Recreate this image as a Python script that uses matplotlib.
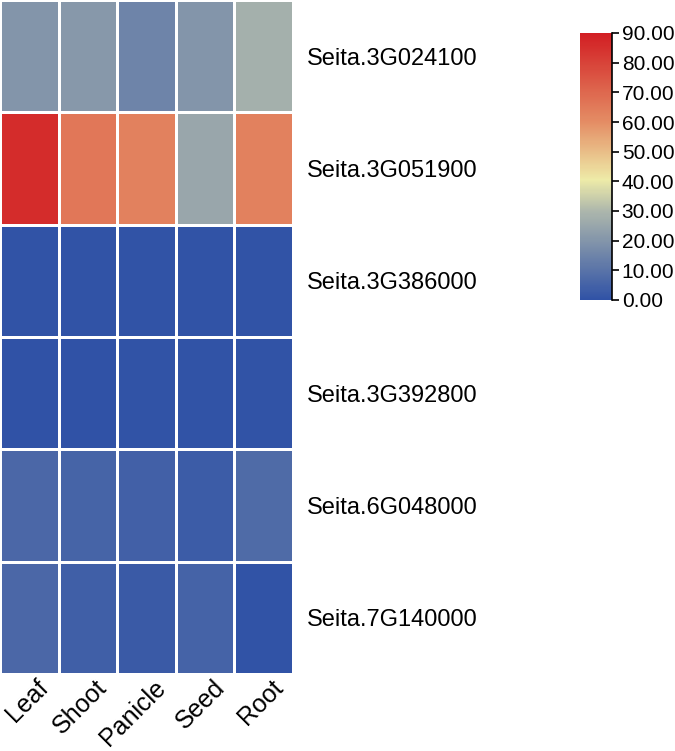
import numpy as np
import matplotlib
matplotlib.use("Agg")
import matplotlib.pyplot as plt
from matplotlib.colors import LinearSegmentedColormap
from matplotlib.transforms import ScaledTranslation

plt.rcParams['font.family'] = ['Liberation Sans', 'DejaVu Sans']

# data
genes = ["Seita.3G024100", "Seita.3G051900", "Seita.3G386000",
         "Seita.3G392800", "Seita.6G048000", "Seita.7G140000"]
tissues = ["Leaf", "Shoot", "Panicle", "Seed", "Root"]
values = np.array([
    [20.0, 21.0, 15.0, 20.0, 28.0],
    [86.0, 66.0, 63.0, 25.0, 63.0],
    [0.5, 0.4, 0.5, 0.4, 0.4],
    [0.3, 0.3, 0.4, 0.5, 0.4],
    [6.5, 5.5, 4.5, 3.0, 7.5],
    [6.5, 4.0, 2.5, 5.0, 0.5],
])
vmin, vmax = 0, 90
cbar_ticks = [0, 10, 20, 30, 40, 50, 60, 70, 80, 90]

cmap = LinearSegmentedColormap.from_list("tb", [
    (0.0, (48/255, 82/255, 166/255)),
    (0.33, (172/255, 182/255, 172/255)),
    (0.45, (238/255, 235/255, 168/255)),
    (0.67, (228/255, 140/255, 100/255)),
    (1.0, (210/255, 30/255, 35/255)),
])

W, H = 675, 751
fig = plt.figure(figsize=(W / 100, H / 100), dpi=100)

ax = fig.add_axes([0, 1 - 674 / H, 293 / W, 674 / H])
mesh = ax.pcolormesh(values, cmap=cmap, vmin=vmin, vmax=vmax,
                     edgecolor="white", linewidth=1.0)
ax.set_xlim(0, len(tissues))
ax.set_ylim(len(genes), 0)
ax.set_xticks(np.arange(len(tissues)) + 0.5)
ax.set_xticklabels(tissues, rotation=45, ha="right", rotation_mode="anchor",
                   fontsize=18)
ax.set_yticks(np.arange(len(genes)) + 0.5)
ax.set_yticklabels(genes, fontsize=17)
ax.yaxis.tick_right()
ax.tick_params(length=0, pad=10)
ax.tick_params(axis="x", pad=4)
shift = ScaledTranslation(7 / 100, 4 / 100, fig.dpi_scale_trans)
for lab in ax.get_xticklabels():
    lab.set_transform(lab.get_transform() + shift)
for s in ax.spines.values():
    s.set_visible(False)

cax = fig.add_axes([580 / W, 1 - 300 / H, 32 / W, 267 / H])
cb = fig.colorbar(mesh, cax=cax, ticks=cbar_ticks)
cb.outline.set_visible(False)
cax.plot([1, 1], [0, 1], transform=cax.transAxes, color="black",
         lw=1.2, clip_on=False)
cax.set_yticklabels([f"{t:.2f}" for t in cbar_ticks], fontsize=15)
cax.tick_params(length=5, width=1.2, pad=2)

fig.savefig("out.png", dpi=100)
